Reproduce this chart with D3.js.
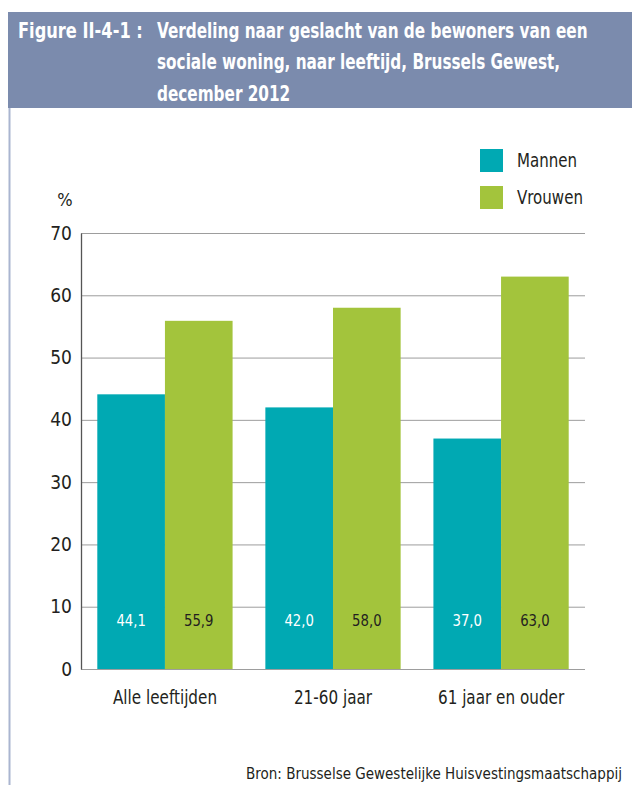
<!DOCTYPE html>
<html><head><meta charset="utf-8">
<script src="https://cdn.jsdelivr.net/npm/d3@7"></script>
<style>
body{margin:0;background:#fff;}
svg{display:block;}
text{font-family:"Liberation Sans Narrow","DejaVu Sans Condensed","Roboto Condensed",sans-serif;}
</style></head>
<body>
<script>
const categories = ["Alle leeftijden", "21-60 jaar", "61 jaar en ouder"];
const seriesNames = ["Mannen", "Vrouwen"];
const mannen = [44.1, 42.0, 37.0];
const vrouwen = [55.9, 58.0, 63.0];
const yTicks = [0, 10, 20, 30, 40, 50, 60, 70];
const colors = ["#00a9b3", "#a3c43c"];
const titleLines = ["Verdeling naar geslacht van de bewoners van een", "sociale woning, naar leeftijd, Brussels Gewest,", "december 2012"];

const W = 632, H = 785;
const svg = d3.select("body").append("svg").attr("width", W).attr("height", H);

function condense(sel, f) {
  sel.each(function () {
    const w = this.getComputedTextLength();
    d3.select(this).attr("textLength", w * f).attr("lengthAdjust", "spacingAndGlyphs");
  });
}

// header
svg.append("rect").attr("x", 8).attr("y", 12).attr("width", W - 8).attr("height", 96).attr("fill", "#7b8bad");
svg.append("line").attr("x1", 9.5).attr("x2", 9.5).attr("y1", 108).attr("y2", H).attr("stroke", "#aab5d0").attr("stroke-width", 2);
svg.append("text").attr("transform", "translate(18,38) scale(0.84,1)").attr("fill", "#fff")
  .attr("font-weight", "bold").attr("font-size", 21.5).text("Figure II-4-1 :");
titleLines.forEach((t, i) => {
  svg.append("text").attr("transform", `translate(157,${38 + i * 31.3}) scale(0.79,1)`)
    .attr("fill", "#fff").attr("font-weight", "bold").attr("font-size", 21.5).text(t);
});

const x0 = d3.scaleBand().domain(categories).range([81, 585]).paddingInner(0.195).paddingOuter(0.097);
const x1 = d3.scaleBand().domain(seriesNames).range([0, x0.bandwidth()]);
const y = d3.scaleLinear().domain([0, 70]).range([669, 233]);

// gridlines
svg.append("g").selectAll("line").data(yTicks).join("line")
  .attr("x1", 81).attr("x2", 585).attr("y1", d => y(d) + 0.5).attr("y2", d => y(d) + 0.5)
  .attr("stroke", "#9d9d9d").attr("stroke-width", 1);

// y axis
const yAxis = svg.append("g").attr("transform", "translate(81,0)")
  .call(d3.axisLeft(y).tickValues(yTicks).tickSize(0).tickPadding(9));
yAxis.select(".domain").attr("stroke", "#555").attr("stroke-width", 1.3);
yAxis.selectAll("text").attr("font-size", 19).attr("fill", "#231f20").attr("font-family", "'Liberation Sans Narrow','DejaVu Sans Condensed',sans-serif");

svg.append("text").attr("x", 65).attr("y", 206).attr("text-anchor", "middle").attr("font-size", 18).attr("fill", "#231f20").text("%");

const data = categories.map((c, i) => ({cat: c, vals: [mannen[i], vrouwen[i]]}));
const groups = svg.append("g").selectAll("g").data(data).join("g")
  .attr("transform", d => `translate(${x0(d.cat)},0)`);
groups.selectAll("rect").data(d => d.vals.map((v, j) => ({v, s: seriesNames[j], j}))).join("rect")
  .attr("x", d => x1(d.s)).attr("width", x1.bandwidth())
  .attr("y", d => y(d.v)).attr("height", d => y(0) - y(d.v))
  .attr("fill", d => colors[d.j]);
groups.selectAll("text.val").data(d => d.vals.map((v, j) => ({v, s: seriesNames[j], j}))).join("text")
  .attr("class", "val")
  .attr("x", d => x1(d.s) + x1.bandwidth() / 2).attr("y", 626)
  .attr("text-anchor", "middle").attr("font-size", 16)
  .attr("fill", d => d.j === 0 ? "#fff" : "#231f20")
  .text(d => d3.format(".1f")(d.v).replace(".", ","))
  .call(condense, 0.92);

// x axis
const xAxis = svg.append("g").attr("transform", "translate(0,669)")
  .call(d3.axisBottom(x0).tickSize(0).tickPadding(22));
xAxis.select(".domain").remove();
xAxis.selectAll("text").attr("font-size", 19).attr("fill", "#231f20").attr("font-family", "'Liberation Sans Narrow','DejaVu Sans Condensed',sans-serif")
  .call(condense, 0.89);

// legend
const leg = svg.append("g").selectAll("g").data(seriesNames).join("g")
  .attr("transform", (d, i) => `translate(480,${149 + i * 37})`);
leg.append("rect").attr("width", 23).attr("height", 23).attr("fill", (d, i) => colors[i]);
leg.append("text").attr("x", 37).attr("y", 18).attr("font-size", 19).attr("fill", "#231f20").text(d => d)
  .call(condense, 0.88);

// source
svg.append("text").attr("x", 622).attr("y", 779).attr("text-anchor", "end").attr("font-size", 15).attr("fill", "#231f20")
  .text("Bron: Brusselse Gewestelijke Huisvestingsmaatschappij");
</script>
</body></html>
